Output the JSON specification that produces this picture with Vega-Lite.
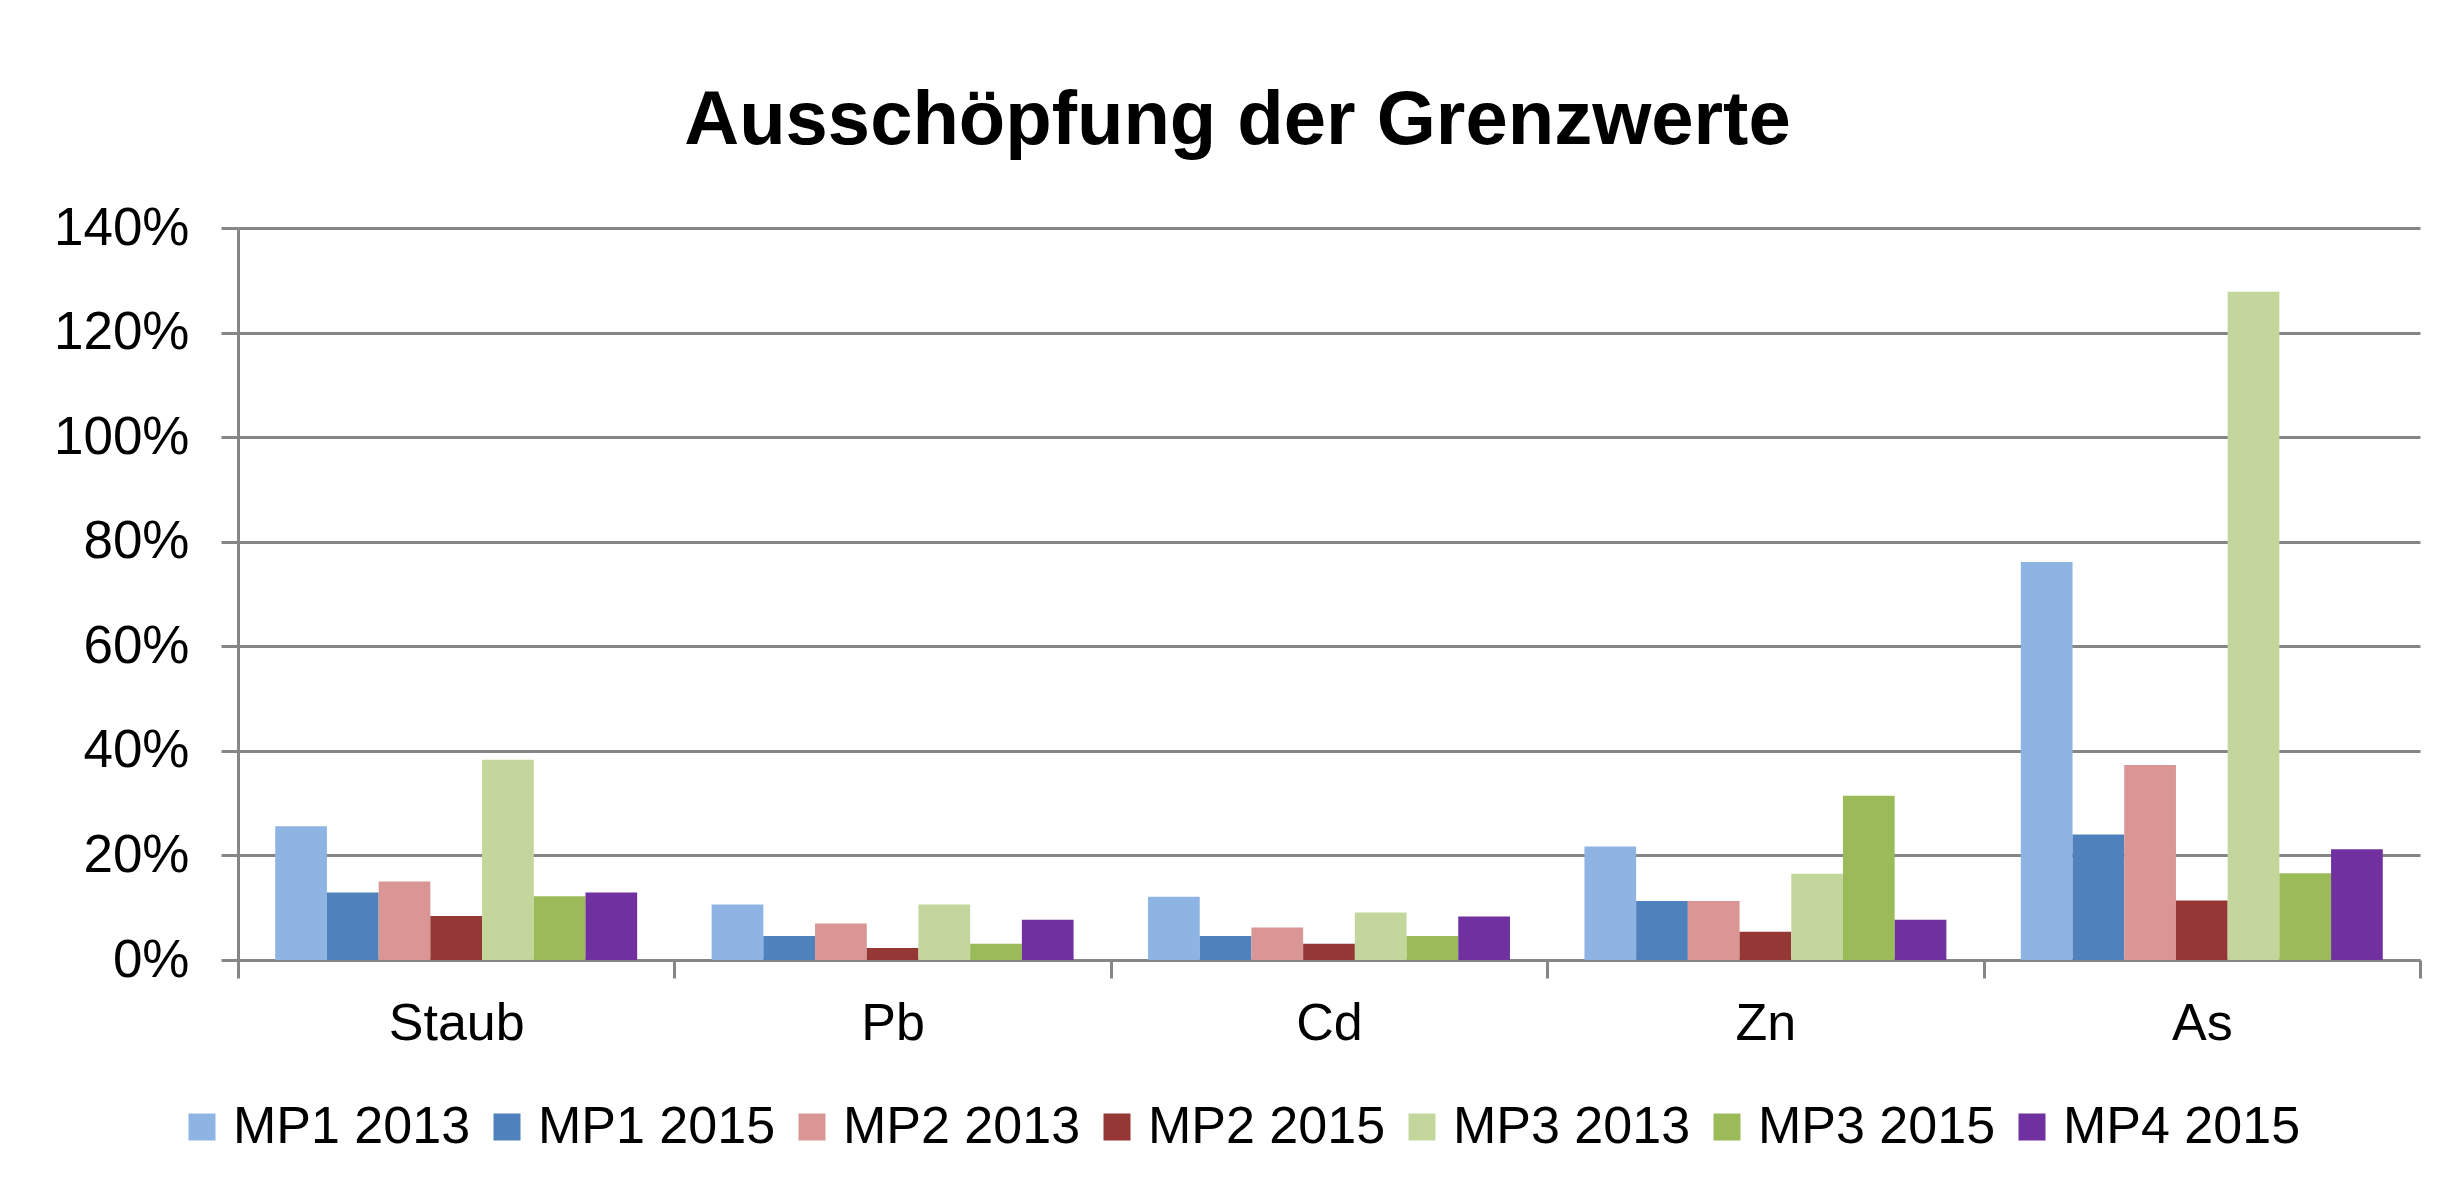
{
  "$schema": "https://vega.github.io/schema/vega-lite/v6.json",
  "width": 2182,
  "height": 732,
  "autosize": "none",
  "padding": {"left": 238, "top": 228, "right": 31, "bottom": 228},
  "background": "white",
  "title": {
    "text": "Ausschöpfung der Grenzwerte",
    "font": "Liberation Sans",
    "fontSize": 76,
    "fontWeight": "bold",
    "color": "#000000",
    "anchor": "middle",
    "frame": "bounds",
    "offset": 42
  },
  "data": {
    "values": [
      {"Stoff": "Staub", "Serie": "MP1 2013", "Wert": 0.256},
      {"Stoff": "Staub", "Serie": "MP1 2015", "Wert": 0.129},
      {"Stoff": "Staub", "Serie": "MP2 2013", "Wert": 0.150},
      {"Stoff": "Staub", "Serie": "MP2 2015", "Wert": 0.084},
      {"Stoff": "Staub", "Serie": "MP3 2013", "Wert": 0.383},
      {"Stoff": "Staub", "Serie": "MP3 2015", "Wert": 0.122},
      {"Stoff": "Staub", "Serie": "MP4 2015", "Wert": 0.129},
      {"Stoff": "Pb", "Serie": "MP1 2013", "Wert": 0.106},
      {"Stoff": "Pb", "Serie": "MP1 2015", "Wert": 0.046},
      {"Stoff": "Pb", "Serie": "MP2 2013", "Wert": 0.070},
      {"Stoff": "Pb", "Serie": "MP2 2015", "Wert": 0.023},
      {"Stoff": "Pb", "Serie": "MP3 2013", "Wert": 0.106},
      {"Stoff": "Pb", "Serie": "MP3 2015", "Wert": 0.031},
      {"Stoff": "Pb", "Serie": "MP4 2015", "Wert": 0.077},
      {"Stoff": "Cd", "Serie": "MP1 2013", "Wert": 0.121},
      {"Stoff": "Cd", "Serie": "MP1 2015", "Wert": 0.046},
      {"Stoff": "Cd", "Serie": "MP2 2013", "Wert": 0.062},
      {"Stoff": "Cd", "Serie": "MP2 2015", "Wert": 0.031},
      {"Stoff": "Cd", "Serie": "MP3 2013", "Wert": 0.091},
      {"Stoff": "Cd", "Serie": "MP3 2015", "Wert": 0.046},
      {"Stoff": "Cd", "Serie": "MP4 2015", "Wert": 0.083},
      {"Stoff": "Zn", "Serie": "MP1 2013", "Wert": 0.217},
      {"Stoff": "Zn", "Serie": "MP1 2015", "Wert": 0.113},
      {"Stoff": "Zn", "Serie": "MP2 2013", "Wert": 0.113},
      {"Stoff": "Zn", "Serie": "MP2 2015", "Wert": 0.054},
      {"Stoff": "Zn", "Serie": "MP3 2013", "Wert": 0.165},
      {"Stoff": "Zn", "Serie": "MP3 2015", "Wert": 0.314},
      {"Stoff": "Zn", "Serie": "MP4 2015", "Wert": 0.077},
      {"Stoff": "As", "Serie": "MP1 2013", "Wert": 0.761},
      {"Stoff": "As", "Serie": "MP1 2015", "Wert": 0.240},
      {"Stoff": "As", "Serie": "MP2 2013", "Wert": 0.373},
      {"Stoff": "As", "Serie": "MP2 2015", "Wert": 0.114},
      {"Stoff": "As", "Serie": "MP3 2013", "Wert": 1.278},
      {"Stoff": "As", "Serie": "MP3 2015", "Wert": 0.166},
      {"Stoff": "As", "Serie": "MP4 2015", "Wert": 0.212}
    ]
  },
  "mark": {"type": "bar"},
  "encoding": {
    "x": {
      "field": "Stoff",
      "type": "nominal",
      "sort": ["Staub", "Pb", "Cd", "Zn", "As"],
      "scale": {"paddingInner": 0, "paddingOuter": 0},
      "axis": {
        "title": null,
        "labelAngle": 0,
        "labelFont": "Liberation Sans",
        "labelFontSize": 52,
        "labelColor": "#000000",
        "labelPadding": 20,
        "tickBand": "extent",
        "tickSize": 18,
        "tickWidth": 3,
        "tickColor": "#868686",
        "domainColor": "#868686",
        "domainWidth": 3,
        "grid": false
      }
    },
    "xOffset": {
      "field": "Serie",
      "type": "nominal",
      "sort": ["MP1 2013", "MP1 2015", "MP2 2013", "MP2 2015", "MP3 2013", "MP3 2015", "MP4 2015"],
      "scale": {"paddingInner": 0, "paddingOuter": 0.72}
    },
    "y": {
      "field": "Wert",
      "type": "quantitative",
      "scale": {"domain": [0, 1.4], "nice": false},
      "axis": {
        "title": null,
        "values": [0, 0.2, 0.4, 0.6, 0.8, 1.0, 1.2, 1.4],
        "format": ".0%",
        "labelFont": "Liberation Sans",
        "labelFontSize": 53,
        "labelColor": "#000000",
        "labelPadding": 32,
        "tickSize": 17,
        "tickWidth": 3,
        "tickColor": "#868686",
        "domainColor": "#868686",
        "domainWidth": 3,
        "grid": true,
        "gridColor": "#868686",
        "gridWidth": 3,
        "gridOpacity": 1
      }
    },
    "color": {
      "field": "Serie",
      "type": "nominal",
      "sort": ["MP1 2013", "MP1 2015", "MP2 2013", "MP2 2015", "MP3 2013", "MP3 2015", "MP4 2015"],
      "scale": {
        "domain": ["MP1 2013", "MP1 2015", "MP2 2013", "MP2 2015", "MP3 2013", "MP3 2015", "MP4 2015"],
        "range": ["#8EB4E3", "#4F81BD", "#D99694", "#953735", "#C3D69B", "#9BBB59", "#7030A0"]
      },
      "legend": {
        "title": null,
        "orient": "none",
        "direction": "horizontal",
        "legendX": -62,
        "legendY": 873,
        "symbolType": "square",
        "symbolSize": 729,
        "symbolStrokeWidth": 0,
        "symbolOpacity": 1,
        "labelFont": "Liberation Sans",
        "labelFontSize": 52,
        "labelColor": "#000000",
        "labelOffset": 5,
        "columnPadding": 10,
        "labelLimit": 400
      }
    }
  },
  "config": {
    "view": {"stroke": null}
  }
}
